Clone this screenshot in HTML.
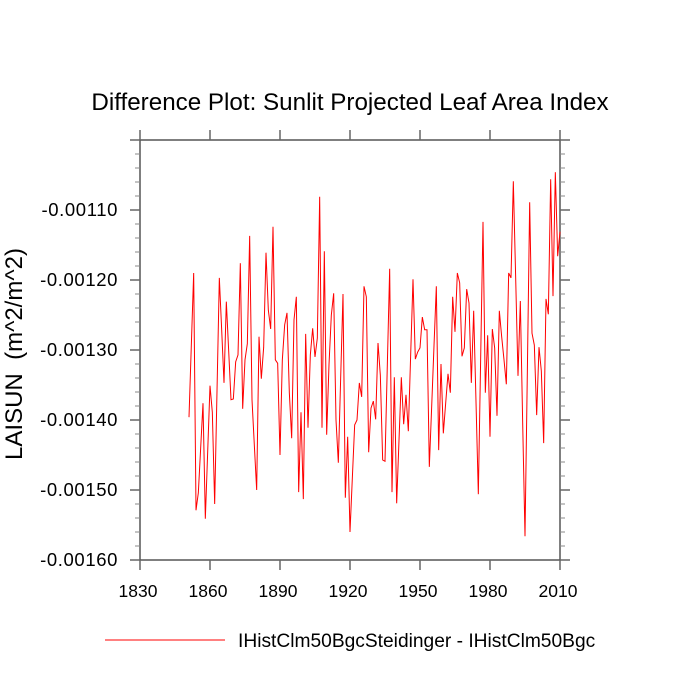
<!DOCTYPE html>
<html><head><meta charset="utf-8"><style>
html,body{margin:0;padding:0;background:#fff;}
svg{display:block;font-family:"Liberation Sans",sans-serif;}
</style></head><body>
<svg id="chart" width="700" height="700">
<text x="350" y="110" font-size="24.2" text-anchor="middle">Difference Plot: Sunlit Projected Leaf Area Index</text>
<text transform="translate(22,354) rotate(-90)" font-size="24" text-anchor="middle" xml:space="preserve" style="white-space:pre">LAISUN  (m^2/m^2)</text>
<g id="axes"></g>
<polyline id="series" fill="none" stroke="#ff0000" stroke-width="1"/>
<line x1="105" y1="640" x2="225" y2="640" stroke="#ff0000" stroke-width="1"/>
<text x="238" y="647" font-size="19.2">IHistClm50BgcSteidinger - IHistClm50Bgc</text>
</svg>
<script>
const firstYear = 1851;
const values = [
-0.001396,-0.001293,-0.001190,-0.001529,-0.001504,-0.001440,-0.001376,-0.001541,-0.001446,-0.001351,
-0.001389,-0.001520,-0.001359,-0.001197,-0.001271,-0.001347,-0.001231,-0.001301,-0.001371,-0.001370,
-0.001317,-0.001307,-0.001176,-0.001384,-0.001314,-0.001291,-0.001137,-0.001371,-0.001436,-0.001500,
-0.001281,-0.001341,-0.001296,-0.001161,-0.001243,-0.001270,-0.001124,-0.001314,-0.001319,-0.001450,
-0.001314,-0.001264,-0.001247,-0.001361,-0.001426,-0.001257,-0.001224,-0.001503,-0.001389,-0.001513,
-0.001277,-0.001411,-0.001307,-0.001269,-0.001310,-0.001283,-0.001081,-0.001411,-0.001159,-0.001421,
-0.001321,-0.001250,-0.001219,-0.001400,-0.001461,-0.001340,-0.001220,-0.001511,-0.001424,-0.001560,
-0.001483,-0.001407,-0.001400,-0.001347,-0.001367,-0.001209,-0.001224,-0.001446,-0.001383,-0.001373,
-0.001399,-0.001290,-0.001336,-0.001457,-0.001459,-0.001321,-0.001184,-0.001503,-0.001339,-0.001519,
-0.001429,-0.001339,-0.001406,-0.001364,-0.001416,-0.001307,-0.001199,-0.001313,-0.001303,-0.001297,
-0.001253,-0.001271,-0.001271,-0.001467,-0.001381,-0.001294,-0.001209,-0.001443,-0.001320,-0.001419,
-0.001376,-0.001334,-0.001361,-0.001224,-0.001274,-0.001190,-0.001204,-0.001309,-0.001297,-0.001213,
-0.001233,-0.001347,-0.001244,-0.001374,-0.001506,-0.001311,-0.001117,-0.001361,-0.001279,-0.001424,
-0.001270,-0.001297,-0.001394,-0.001244,-0.001281,-0.001314,-0.001349,-0.001190,-0.001197,-0.001059,
-0.001197,-0.001337,-0.001230,-0.001404,-0.001566,-0.001333,-0.001089,-0.001276,-0.001293,-0.001393,
-0.001296,-0.001330,-0.001433,-0.001227,-0.001249,-0.001056,-0.001223,-0.001046,-0.001166,-0.001131
];
const xTicks = [1830,1860,1890,1920,1950,1980,2010];
const yTicks = [-0.00160,-0.00150,-0.00140,-0.00130,-0.00120,-0.00110,-0.00100];
const yTickLabels = ["-0.00160","-0.00150","-0.00140","-0.00130","-0.00120","-0.00110",""];
const xDomain = [1830, 2010];
const yDomain = [-0.00160, -0.00100];

const L=140,R=560,T=140,B=560;
const xs = v => L + (v - xDomain[0]) / (xDomain[1]-xDomain[0]) * (R-L);
const ys = v => B - (v - yDomain[0]) / (yDomain[1]-yDomain[0]) * (B-T);
const NS="http://www.w3.org/2000/svg";
const ax=document.getElementById('axes');
function mk(tag, attrs){const e=document.createElementNS(NS,tag);for(const k in attrs)e.setAttribute(k,attrs[k]);ax.appendChild(e);return e;}

const frame=mk('rect',{x:L,y:T,width:R-L,height:B-T,fill:'none',stroke:'#555','stroke-width':1.5});



xTicks.forEach(t=>{
  const x=xs(t);
  const b=mk('line',{x1:x,y1:B,x2:x,y2:B+10,stroke:'#666','stroke-width':1.5});
  
  
  const tp=mk('line',{x1:x,y1:T,x2:x,y2:T-10,stroke:'#666','stroke-width':1.5});
  
  
  const lb=mk('text',{x:x-2,y:B+37,'font-size':17.5,'text-anchor':'middle'});
  lb.textContent=String(t);
  
  
});
yTicks.forEach((t,i)=>{
  const y=ys(t);
  const a=mk('line',{x1:L,y1:y,x2:L-10,y2:y,stroke:'#666','stroke-width':1.5});
  
  
  const b=mk('line',{x1:R,y1:y,x2:R+10,y2:y,stroke:'#666','stroke-width':1.5});
  
  
  if(yTickLabels[i]){
    const lb=mk('text',{x:L-22,y:y+6,'font-size':18.5,'letter-spacing':0.6,'text-anchor':'end'});
    lb.textContent=yTickLabels[i];
    
    
  }
  if(i<yTicks.length-1){
    for(let k=1;k<5;k++){
      const ym=ys(t+k*0.00002);
      const m1=mk('line',{x1:L,y1:ym,x2:L-5,y2:ym,stroke:'#888','stroke-width':1});
      
      
      const m2=mk('line',{x1:R,y1:ym,x2:R+5,y2:ym,stroke:'#888','stroke-width':1});
      
      
    }
  }
});
const pts=values.map((v,i)=>xs(firstYear+i).toFixed(2)+','+ys(v).toFixed(2)).join(' ');
document.getElementById('series').setAttribute('points',pts);
</script>
</body></html>
